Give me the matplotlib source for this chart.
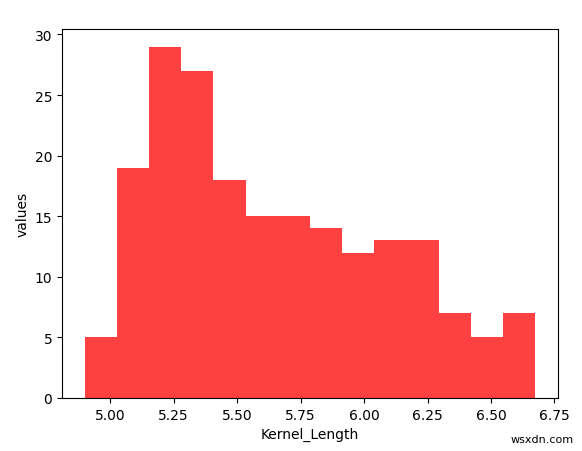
import numpy as np
import matplotlib.pyplot as plt

# histogram of kernel length (seeds data), counts
length_min = 4.899
length_max = 6.675
bin_counts = [5, 19, 29, 27, 18, 15, 15, 14, 12, 13, 13, 7, 5, 7]

edges = np.linspace(length_min, length_max, len(bin_counts) + 1)
centers = (edges[:-1] + edges[1:]) / 2

fig = plt.figure(figsize=(5.82, 4.52), dpi=100)
ax = fig.add_axes([62 / 582, 1 - 399 / 452, 496 / 582, 369 / 452])
ax.hist(centers, bins=edges, weights=bin_counts, color='red', alpha=0.75)
ax.set_xlabel('Kernel_Length')
ax.set_ylabel('values')

fig.text(0.985, 0.015, 'wsxdn.com', ha='right', va='bottom', fontsize=8)

plt.savefig('out.png')
